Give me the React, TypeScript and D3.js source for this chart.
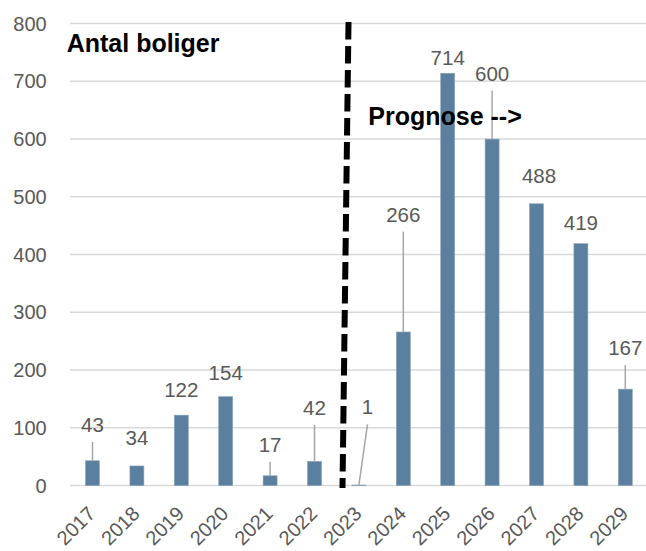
import React, { useEffect, useRef } from "react";
import * as d3 from "d3";

// data
const years = ["2017", "2018", "2019", "2020", "2021", "2022", "2023", "2024", "2025", "2026", "2027", "2028", "2029"];
const boliger = [43, 34, 122, 154, 17, 42, 1, 266, 714, 600, 488, 419, 167];
// where Excel left each data label (value units), plus a small sideways nudge in px
const labelAt = [92.8, 70.3, 153.9, 182.9, 58.7, 122.3, 123.5, 457, 728.3, 701.1, 524.5, 442.6, 226];
const labelNudge = [0, 0, 0, 0, 0, 0, 8.6, 0, 0, 0, 2.5, 0, 0];
const yTicks = [0, 100, 200, 300, 400, 500, 600, 700, 800];

const App = () => {
  const svgRef = useRef<SVGSVGElement>(null);

  useEffect(() => {
    const width = 646;
    const height = 551;
    const font = "'Liberation Sans', Arial, sans-serif";
    const grey = "#595959";

    const svg = d3.select(svgRef.current);
    svg.selectAll("*").remove();
    svg.attr("width", width).attr("height", height);

    const x = d3.scaleBand().domain(years).range([70.3, 647.5]).paddingInner(0.685).paddingOuter(0.3425);
    const y = d3.scaleLinear().domain([0, 800]).range([485.6, 23.6]);
    const cx = (d: string) => (x(d) as number) + x.bandwidth() / 2;

    // gridlines
    svg
      .append("g")
      .selectAll("line")
      .data(yTicks)
      .enter()
      .append("line")
      .attr("x1", 70)
      .attr("x2", width)
      .attr("y1", (d) => y(d))
      .attr("y2", (d) => y(d))
      .attr("stroke", "#d9d9d9")
      .attr("stroke-width", 1.5);

    // y tick labels
    svg
      .append("g")
      .selectAll("text")
      .data(yTicks)
      .enter()
      .append("text")
      .attr("x", 46.7)
      .attr("y", (d) => y(d) + 7)
      .attr("text-anchor", "end")
      .style("font-family", font)
      .style("font-size", "20px")
      .attr("fill", grey)
      .text((d) => d);

    // bars
    svg
      .append("g")
      .selectAll("rect")
      .data(boliger)
      .enter()
      .append("rect")
      .attr("x", (d, i) => x(years[i]) as number)
      .attr("width", x.bandwidth())
      .attr("y", (d) => y(d))
      .attr("height", (d) => y(0) - y(d))
      .attr("fill", "#5b7f9e")
      .attr("stroke", "#8aa5bc")
      .attr("stroke-width", 0.6);

    // x labels
    svg
      .append("g")
      .selectAll("text")
      .data(years)
      .enter()
      .append("text")
      .attr("transform", (d) => `translate(${cx(d) + 4},${515}) rotate(-45)`)
      .attr("text-anchor", "end")
      .style("font-family", font)
      .style("font-size", "20px")
      .attr("fill", grey)
      .text((d) => d);

    // leader lines
    boliger.forEach((v, i) => {
      const lx = cx(years[i]) + labelNudge[i];
      const start = y(labelAt[i]) + 10;
      if (y(v) - start > 13) {
        svg
          .append("line")
          .attr("x1", lx)
          .attr("y1", start)
          .attr("x2", cx(years[i]))
          .attr("y2", y(v))
          .attr("stroke", "#a6a6a6")
          .attr("stroke-width", 1.5);
      }
    });

    // data labels
    svg
      .append("g")
      .selectAll("text")
      .data(boliger)
      .enter()
      .append("text")
      .attr("x", (d, i) => cx(years[i]) + labelNudge[i])
      .attr("y", (d, i) => y(labelAt[i]))
      .attr("text-anchor", "middle")
      .style("font-family", font)
      .style("font-size", "20.5px")
      .attr("fill", grey)
      .text((d) => d);

    // forecast divider
    svg
      .append("line")
      .attr("x1", 348.5)
      .attr("y1", 22)
      .attr("x2", 342.5)
      .attr("y2", 488)
      .attr("stroke", "#000")
      .attr("stroke-width", 6)
      .attr("stroke-dasharray", "17.5 6.5");

    // titles
    svg
      .append("text")
      .attr("x", 66.7)
      .attr("y", 52)
      .style("font-family", font)
      .style("font-size", "25px")
      .style("font-weight", "bold")
      .attr("fill", "#000")
      .text("Antal boliger");

    svg
      .append("text")
      .attr("x", 368.3)
      .attr("y", 125)
      .style("font-family", font)
      .style("font-size", "25px")
      .style("font-weight", "bold")
      .attr("fill", "#000")
      .text("Prognose -->");
  }, []);

  return <svg ref={svgRef} style={{ position: "absolute", left: 0, top: 0, background: "#fff" }}></svg>;
};

export default App;
